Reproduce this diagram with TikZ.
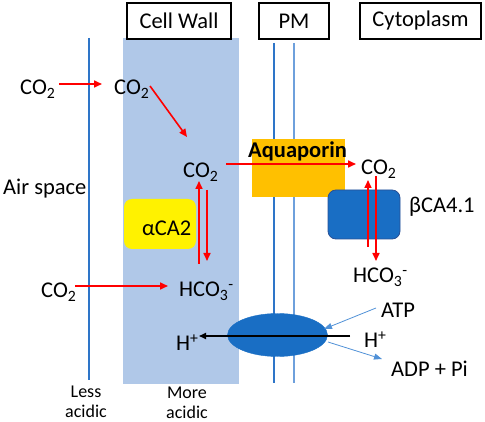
\documentclass[tikz,border=0pt]{standalone}
\usepackage{fontspec}
\setmainfont{Carlito}
\usetikzlibrary{arrows.meta,shapes.geometric}
\definecolor{wallblue}{RGB}{176,200,232}
\definecolor{linedark}{RGB}{46,117,200}
\definecolor{linelight}{RGB}{110,160,220}
\definecolor{protblue}{RGB}{25,110,196}
\definecolor{protedge}{RGB}{40,80,150}
\definecolor{aquaor}{RGB}{255,192,0}
\definecolor{arrowblue}{RGB}{80,145,215}
\newcommand{\dn}[1]{\textsubscript{#1}}
\newcommand{\up}[1]{\textsuperscript{#1}}
\tikzset{
  lbl/.style={font=\fontsize{22.5}{26}\selectfont, inner sep=0pt, anchor=base west},
  small/.style={font=\fontsize{18}{20}\selectfont, inner sep=0pt, align=center},
  headbox/.style={draw=black, line width=1.2pt, fill=white, font=\fontsize{22.5}{26}\selectfont, inner sep=0pt},
  redarrow/.style={draw=red, line width=1.6pt, -{Triangle[length=8pt,width=7pt]}},
  bluearrow/.style={draw=arrowblue, line width=0.8pt, -{Triangle[length=8pt,width=6pt]}},
  blackarrow/.style={draw=black, line width=1.6pt, -{Triangle[length=7pt,width=6pt]}},
}
\begin{document}
\begin{tikzpicture}[x=1pt,y=-1pt]
\useasboundingbox (0,0) rectangle (485,422);
% cell wall
\fill[wallblue] (123,38) rectangle (239,384);
% lines
\draw[linedark, line width=1.5pt] (89,38) -- (89,380);
\draw[linedark, line width=1.2pt] (274,43) -- (274,383);
\draw[linelight, line width=1.2pt] (294,43) -- (294,383);
% header boxes
\node[headbox, minimum width=104pt, minimum height=36pt] (cw) at (179,21) {Cell Wall};
\node[headbox, minimum width=70pt, minimum height=36pt] (pm) at (294,21) {PM};
\node[headbox, minimum width=121pt, minimum height=36pt] (cyt) at (420.5,21) {Cytoplasm};
% proteins
\node[fill=yellow, rounded corners=8pt, minimum width=72pt, minimum height=50pt, inner sep=0pt] (aca) at (160,224) {};
\node[lbl] (acatxt) at (142,236) {αCA2};
\node[fill=aquaor, minimum width=93pt, minimum height=58pt, inner sep=0pt] (aqp) at (298.5,168) {};
\node[font=\fontsize{22.5}{26}\selectfont\bfseries, inner sep=0pt, anchor=base west] (aqptxt) at (248,158) {Aquaporin};
\node[fill=protblue, draw=protedge, line width=0.8pt, rounded corners=8pt, minimum width=72pt, minimum height=49pt, inner sep=0pt] (bca) at (364,214.5) {};
\node[lbl] (bcatxt) at (409,213) {βCA4.1};
\node[ellipse, fill=protblue, draw=protblue, minimum width=100pt, minimum height=43pt, inner sep=0pt] (pump) at (277.5,335) {};
% texts
\node[lbl] (co2a) at (20,95) {CO\dn{2}};
\node[lbl] (co2b) at (114,95) {CO\dn{2}};
\node[lbl] (co2c) at (183,178) {CO\dn{2}};
\node[lbl] (co2d) at (361,175) {CO\dn{2}};
\node[lbl] (co2e) at (41,298) {CO\dn{2}};
\node[lbl] (hco3a) at (179,297) {HCO\dn{3}\up{-}};
\node[lbl] (hco3b) at (353,283) {HCO\dn{3}\up{-}};
\node[lbl] (hpa) at (176,351) {H\up{+}};
\node[lbl] (hpb) at (364,348) {H\up{+}};
\node[lbl] (atp) at (381,318) {ATP};
\node[lbl] (adp) at (391,376) {ADP + Pi};
\node[lbl] (air) at (3,195) {Air space};
\node[small, anchor=base] (less) at (86,417) {Less\\[-0.5pt]acidic};
\node[small, anchor=base] (more) at (187,418) {More\\[-0.5pt]acidic};
% coordinates for connectors
\coordinate (p1s) at (59,84); \coordinate (p1e) at (102,84);
\coordinate (p2s) at (150,86); \coordinate (p2e) at (187,137);
\coordinate (p3s) at (226,164); \coordinate (p3e) at (356,164);
\coordinate (p4s) at (75,286); \coordinate (p4e) at (168,286);
\coordinate (w1s) at (199,264); \coordinate (w1e) at (199,181);
\coordinate (w2s) at (207,190); \coordinate (w2e) at (207,261);
\coordinate (c1s) at (368,247); \coordinate (c1e) at (368,180);
\coordinate (c2s) at (376,176); \coordinate (c2e) at (376,261);
\coordinate (hs) at (350,336); \coordinate (he) at (199,336);
\coordinate (atps) at (376,308); \coordinate (atpe) at (324,329);
\coordinate (adps) at (328,342); \coordinate (adpe) at (382,359);
% connectors
\draw[redarrow] (p1s) -- (p1e);
\draw[redarrow] (p2s) -- (p2e);
\draw[redarrow] (p3s) -- (p3e);
\draw[redarrow] (p4s) -- (p4e);
\draw[redarrow] (w1s) -- (w1e);
\draw[redarrow] (w2s) -- (w2e);
\draw[redarrow] (c1s) -- (c1e);
\draw[redarrow] (c2s) -- (c2e);
\draw[blackarrow] (hs) -- (he);
\draw[bluearrow] (atps) -- (atpe);
\draw[bluearrow] (adps) -- (adpe);
\end{tikzpicture}
\end{document}
